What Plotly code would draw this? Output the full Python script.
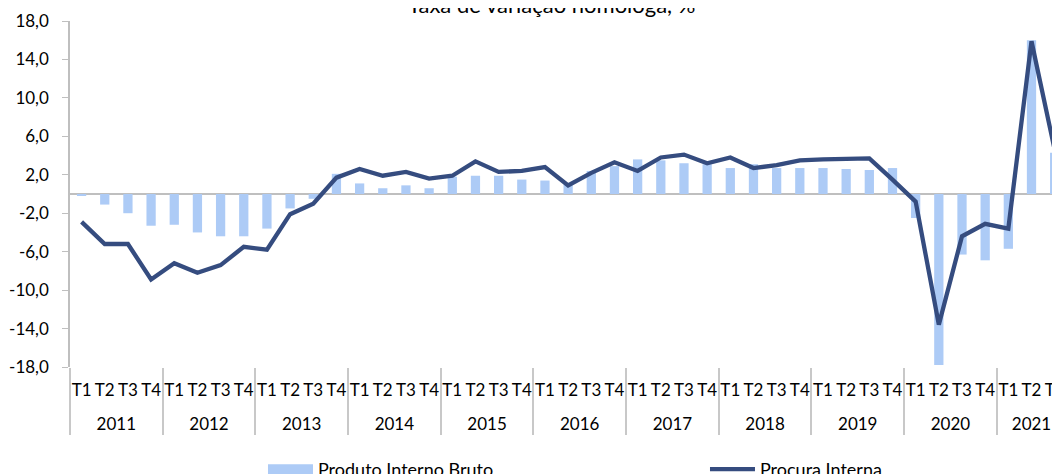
import plotly.graph_objects as go

years = ["2011", "2012", "2013", "2014", "2015", "2016", "2017", "2018", "2019", "2020", "2021"]
quarters = ["T1", "T2", "T3", "T4"]
n_quarters_last = 3

pib = [-0.2, -1.1, -2.0, -3.3, -3.2, -4.0, -4.4, -4.4, -3.6, -1.5, -0.5, 2.1,
       1.1, 0.6, 0.9, 0.6, 1.8, 1.9, 1.9, 1.5, 1.4, 1.0, 2.4, 2.9,
       3.6, 3.5, 3.2, 3.1, 2.7, 3.1, 2.7, 2.7, 2.7, 2.6, 2.5, 2.7,
       -2.5, -17.8, -6.3, -6.9, -5.7, 16.0, 4.3]
procura = [-2.9, -5.2, -5.2, -8.9, -7.2, -8.2, -7.4, -5.5, -5.8, -2.1, -1.0, 1.7,
           2.6, 1.9, 2.3, 1.6, 1.9, 3.4, 2.3, 2.4, 2.8, 0.9, 2.2, 3.3,
           2.4, 3.8, 4.1, 3.2, 3.8, 2.7, 3.0, 3.5, 3.6, 3.6, 3.7, 1.5,
           -0.8, -13.6, -4.4, -3.1, -3.6, 15.9, 4.6]

y_ticks = [-18, -14, -10, -6, -2, 2, 6, 10, 14, 18]
y_ticktext = [f"{v:.1f}".replace(".", ",") for v in y_ticks]

title_text = "Taxa de variação homóloga, %"
name_pib = "Produto Interno Bruto"
name_procura = "Procura Interna"

BAR_COLOR = "#adcbf6"
LINE_COLOR = "#354c7f"

x_year, x_q = [], []
for yi, yr in enumerate(years):
    nq = n_quarters_last if yi == len(years) - 1 else 4
    for q in quarters[:nq]:
        x_year.append("<br>" + yr)
        x_q.append(q)

FONT = "Lato"
# page body has an 8px default margin: figure is sized to fill the 1060x474 window
W, H = 1052, 466

fig = go.Figure()
fig.add_trace(go.Bar(x=[x_year, x_q], y=pib, name=name_pib, showlegend=False,
                     legendgroup="pib",
                     marker=dict(color=BAR_COLOR, line=dict(width=0)), width=0.4))
# legend-only entry drawn as a wide swatch for the bars
fig.add_trace(go.Scatter(x=[None], y=[None], name=name_pib, mode="lines", legendgroup="pib",
                         line=dict(color=BAR_COLOR, width=14), hoverinfo="skip"))
fig.add_trace(go.Scatter(x=[x_year, x_q], y=procura, name=name_procura, mode="lines",
                         line=dict(color=LINE_COLOR, width=4.3)))

fig.update_layout(
    width=W, height=H,
    margin=dict(l=62, r=0, t=13, b=107, autoexpand=False),
    plot_bgcolor="white", paper_bgcolor="white",
    font=dict(family=FONT, size=17, color="#000000"),
    showlegend=True,
    legend=dict(orientation="h", x=0.6414, xanchor="center", yref="container", y=1 - 443/H,
                yanchor="top", font=dict(size=18), entrywidth=382, itemwidth=45,
                traceorder="normal"),
    bargap=0.6,
    annotations=[dict(text=title_text, xref="paper", yref="paper", x=(543-62)/990, y=1,
                      xanchor="center", yanchor="middle", yshift=17, showarrow=False,
                      font=dict(size=22, family=FONT))],
)
fig.update_xaxes(type="multicategory", range=[-0.5, 42.23], showgrid=False, showline=False,
                 zeroline=False, ticks="", showdividers=True, dividercolor="#c8c8c8",
                 dividerwidth=2, tickfont=dict(size=17), tickangle=0, automargin=False,
                 ticklabelstandoff=11)
fig.update_yaxes(range=[-18, 18], tickvals=y_ticks, ticktext=y_ticktext, showgrid=False,
                 showline=True, linecolor="#bfbfbf", linewidth=1.5, ticks="outside",
                 ticklen=6, tickcolor="#bfbfbf", zeroline=True, zerolinecolor="#bfbfbf",
                 zerolinewidth=2, ticklabelstandoff=10, tickfont=dict(size=17),
                 automargin=False)

fig.write_html("out.html")
